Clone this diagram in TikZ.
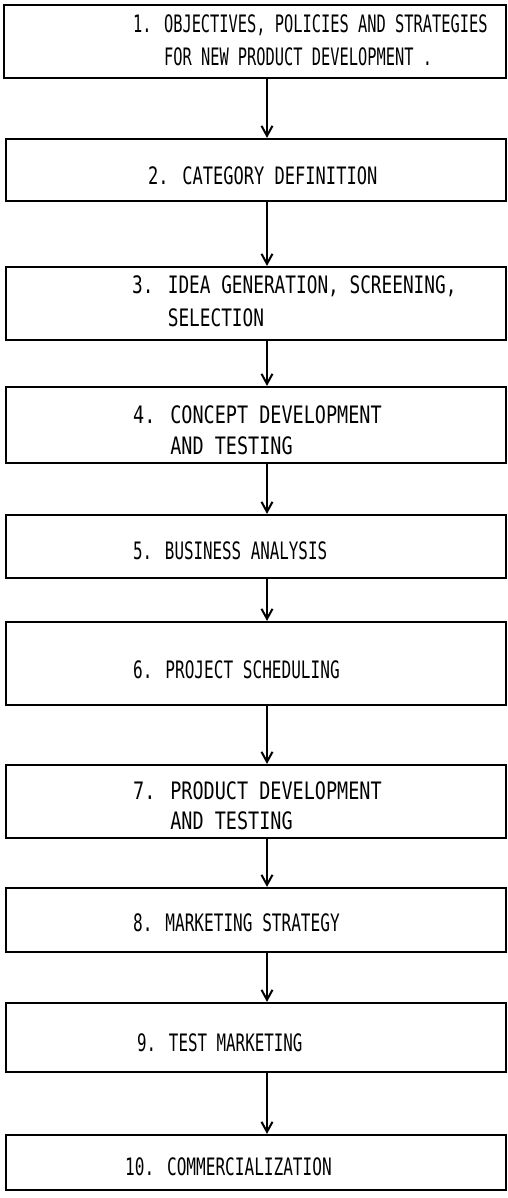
\documentclass[tikz,border=0pt]{standalone}
\usepackage{fontspec}
\usetikzlibrary{arrows.meta}
\newfontfamily\twfont{DejaVu Sans Mono}
\newcommand{\tline}[2]{\scalebox{#1}[1]{\twfont\fontsize{24bp}{24bp}\selectfont #2}}
\tikzset{
  stepbox/.style={draw=black, line width=2.2bp, minimum width=500bp, inner sep=0pt},
  txt/.style={anchor=base west, inner sep=0pt, text=black},
  arr/.style={line width=2.2bp, -{Straight Barb[length=10bp, width=11bp, line width=2bp]}},
}
\begin{document}
\begin{tikzpicture}[x=1bp, y=-1bp]
\useasboundingbox (0,0) rectangle (508,1198);
% boxes
\node[stepbox, minimum width=502bp, minimum height=73bp] (b1) at (255,41.5) {};
\node[stepbox, minimum height=62bp] (b2) at (256,170) {};
\node[stepbox, minimum height=73bp] (b3) at (256,303.5) {};
\node[stepbox, minimum height=76bp] (b4) at (256,425) {};
\node[stepbox, minimum height=63bp] (b5) at (256,546.5) {};
\node[stepbox, minimum height=83bp] (b6) at (256,663.5) {};
\node[stepbox, minimum height=73bp] (b7) at (256,801.5) {};
\node[stepbox, minimum height=64bp] (b8) at (256,920) {};
\node[stepbox, minimum height=69bp] (b9) at (256,1037.5) {};
\node[stepbox, minimum height=55bp] (b10) at (256,1162.5) {};
% texts
\node[txt] (t1a) at (133,32) {\tline{0.64}{1. OBJECTIVES, POLICIES AND STRATEGIES}};
\node[txt] (t1b) at (133,65) {\tline{0.64}{\phantom{1. }FOR NEW PRODUCT DEVELOPMENT .}};
\node[txt] (t2) at (148,184) {\tline{0.71}{2. CATEGORY DEFINITION}};
\node[txt] (t3a) at (132,293) {\tline{0.74}{3. IDEA GENERATION, SCREENING,}};
\node[txt] (t3b) at (132,326) {\tline{0.74}{\phantom{3. }SELECTION}};
\node[txt] (t4a) at (133,423) {\tline{0.77}{4. CONCEPT DEVELOPMENT}};
\node[txt] (t4b) at (133,454) {\tline{0.77}{\phantom{4. }AND TESTING}};
\node[txt] (t5) at (133,559) {\tline{0.66}{5. BUSINESS ANALYSIS}};
\node[txt] (t6) at (133,678) {\tline{0.67}{6. PROJECT SCHEDULING}};
\node[txt] (t7a) at (133,799) {\tline{0.77}{7. PRODUCT DEVELOPMENT}};
\node[txt] (t7b) at (133,829) {\tline{0.77}{\phantom{7. }AND TESTING}};
\node[txt] (t8) at (133,931) {\tline{0.67}{8. MARKETING STRATEGY}};
\node[txt] (t9) at (137,1051) {\tline{0.66}{9. TEST MARKETING}};
\node[txt] (t10) at (125,1175) {\tline{0.67}{10. COMMERCIALIZATION}};
% arrows
\coordinate (ax) at (267,0);
\draw[arr] (b1.south -| ax) -- (b2.north -| ax);
\draw[arr] (b2.south -| ax) -- (b3.north -| ax);
\draw[arr] (b3.south -| ax) -- (b4.north -| ax);
\draw[arr] (b4.south -| ax) -- (b5.north -| ax);
\draw[arr] (b5.south -| ax) -- (b6.north -| ax);
\draw[arr] (b6.south -| ax) -- (b7.north -| ax);
\draw[arr] (b7.south -| ax) -- (b8.north -| ax);
\draw[arr] (b8.south -| ax) -- (b9.north -| ax);
\draw[arr] (b9.south -| ax) -- (b10.north -| ax);
\end{tikzpicture}
\end{document}
